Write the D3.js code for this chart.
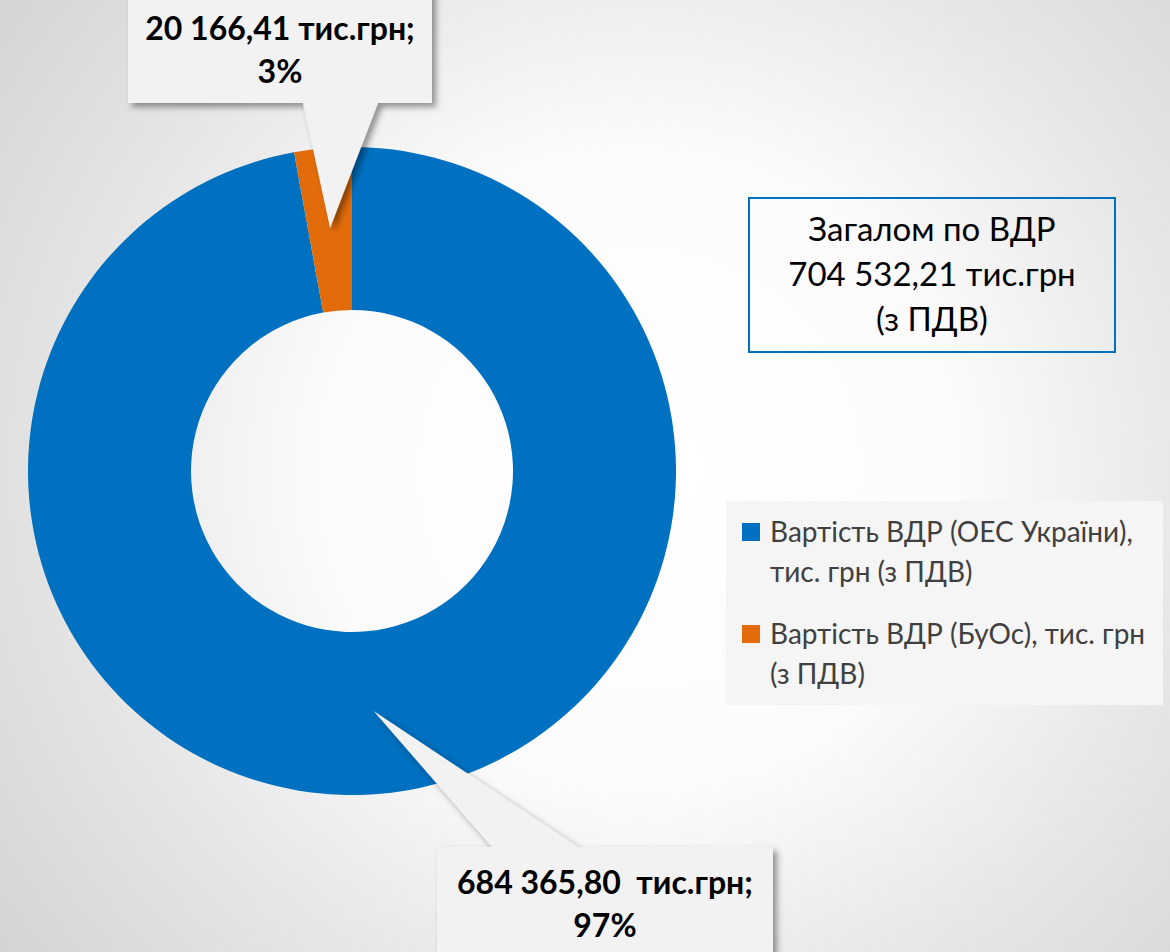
<!DOCTYPE html>
<html>
<head>
<meta charset="utf-8">
<script src="https://cdn.jsdelivr.net/npm/d3@7"></script>
<style>
  html, body { margin: 0; padding: 0; background: #fff; }
  svg { display: block; font-family: Lato, Calibri, "Noto Sans", sans-serif; }
  text { white-space: pre; }
</style>
</head>
<body>
<div id="chart"></div>
<script>
// data
var categories = ["Вартість ВДР (ОЕС України), тис. грн (з ПДВ)", "Вартість ВДР (БуОс), тис. грн (з ПДВ)"]
var values = [684365.80, 20166.41]
var valueLabels = ["684 365,80  тис.грн;", "20 166,41 тис.грн;"]
var legendLines = [["Вартість ВДР (ОЕС України),", "тис. грн (з ПДВ)"],
                   ["Вартість ВДР (БуОс), тис. грн", "(з ПДВ)"]]
var totalLines = ["Загалом по ВДР", "704 532,21 тис.грн", "(з ПДВ)"]
var colors = ["#0070c0", "#e36c0a"]

var w = 1170, h = 952
var cx = 352, cy = 471, outerR = 324, innerR = 161

var svg = d3.select("#chart").append("svg")
    .attr("width", w)
    .attr("height", h)

var defs = svg.append("defs")
var bg = defs.append("radialGradient")
    .attr("id", "bg")
    .attr("gradientUnits", "userSpaceOnUse")
    .attr("cx", 640).attr("cy", 470).attr("r", 800)
bg.selectAll("stop")
  .data([[0, "#ffffff"], [0.4, "#fbfbfb"], [0.7, "#e6e6e6"], [0.9, "#dadada"], [1, "#d4d4d4"]])
  .enter().append("stop")
  .attr("offset", function(d) {return d[0]})
  .attr("stop-color", function(d) {return d[1]})

var shadow = defs.append("filter").attr("id", "shadow")
    .attr("x", "-20%").attr("y", "-20%").attr("width", "150%").attr("height", "150%")
shadow.append("feDropShadow")
    .attr("dx", 4).attr("dy", 4).attr("stdDeviation", 3)
    .attr("flood-color", "#000").attr("flood-opacity", 0.4)

svg.append("rect").attr("width", w).attr("height", h).attr("fill", "url(#bg)")

// donut
var pie = d3.pie().sort(null).value(function(d) {return d})
var arcs = pie(values)
var arc = d3.arc().innerRadius(innerR).outerRadius(outerR)

var g = svg.append("g").attr("transform", "translate(" + cx + "," + cy + ")")
g.selectAll("path.slice")
  .data(arcs)
  .enter().append("path")
  .attr("class", "slice")
  .attr("d", arc)
  .attr("fill", function(d, i) {return colors[i]})

var total = d3.sum(values)
function pct(v) {return Math.round(v / total * 100) + "%"}

// callouts: box + pointer to the slice
var callouts = [
  {i: 0, x0: 437, x1: 773, y0: 847, y1: 975, b0: 492, b1: 578, tipR: 241, ty: 894},
  {i: 1, x0: 128, x1: 432, y0: -20, y1: 103, b0: 303, b1: 378, tipR: 244, ty: 40}
]

function tip(c) {
  var a = arcs[c.i]
  var m = (a.startAngle + a.endAngle) / 2
  return [cx + c.tipR * Math.sin(m), cy - c.tipR * Math.cos(m)]
}

function calloutPath(c) {
  var t = tip(c)
  if (c.y0 > cy) {
    return "M" + c.x0 + "," + c.y0 + "L" + c.b0 + "," + c.y0 + "L" + t[0] + "," + t[1] +
      "L" + c.b1 + "," + c.y0 + "L" + c.x1 + "," + c.y0 + "L" + c.x1 + "," + c.y1 +
      "L" + c.x0 + "," + c.y1 + "Z"
  }
  return "M" + c.x0 + "," + c.y0 + "L" + c.x1 + "," + c.y0 + "L" + c.x1 + "," + c.y1 +
    "L" + c.b1 + "," + c.y1 + "L" + t[0] + "," + t[1] + "L" + c.b0 + "," + c.y1 +
    "L" + c.x0 + "," + c.y1 + "Z"
}

var co = svg.selectAll("g.callout")
  .data(callouts)
  .enter().append("g").attr("class", "callout")

co.append("path")
  .attr("d", calloutPath)
  .attr("fill", "#f2f2f2")
  .attr("filter", "url(#shadow)")

co.append("text")
  .attr("x", function(c) {return (c.x0 + c.x1) / 2})
  .attr("y", function(c) {return c.ty})
  .attr("text-anchor", "middle")
  .style("font-weight", "bold")
  .style("font-size", "32px")
  .attr("fill", "#000")
  .text(function(c) {return valueLabels[c.i]})

co.append("text")
  .attr("x", function(c) {return (c.x0 + c.x1) / 2})
  .attr("y", function(c) {return c.ty + 43})
  .attr("text-anchor", "middle")
  .style("font-weight", "bold")
  .style("font-size", "32px")
  .attr("fill", "#000")
  .text(function(c) {return pct(values[c.i])})

// total box
svg.append("rect")
  .attr("x", 749).attr("y", 198).attr("width", 366).attr("height", 154)
  .attr("fill", "none").attr("stroke", "#0070c0").attr("stroke-width", 2)

svg.selectAll("text.total")
  .data(totalLines)
  .enter().append("text")
  .attr("class", "total")
  .attr("x", 932)
  .attr("y", function(d, i) {return 241 + i * 45})
  .attr("text-anchor", "middle")
  .style("font-size", "33px")
  .attr("fill", "#000")
  .text(function(d) {return d})

// legend
svg.append("rect")
  .attr("x", 726).attr("y", 501).attr("width", 437).attr("height", 204)
  .attr("fill", "#f5f5f5")

var leg = svg.selectAll("g.legend")
  .data(categories)
  .enter().append("g").attr("class", "legend")
  .attr("transform", function(d, i) {return "translate(742," + (523 + i * 102) + ")"})

leg.append("rect")
  .attr("width", 18).attr("height", 18)
  .attr("fill", function(d, i) {return colors[i]})

leg.each(function(d, i) {
  d3.select(this).selectAll("text")
    .data(legendLines[i])
    .enter().append("text")
    .attr("x", 28)
    .attr("y", function(t, j) {return 19 + j * 40})
    .style("font-size", "28px")
    .attr("fill", "#404040")
    .text(function(t) {return t})
})
</script>
</body>
</html>
